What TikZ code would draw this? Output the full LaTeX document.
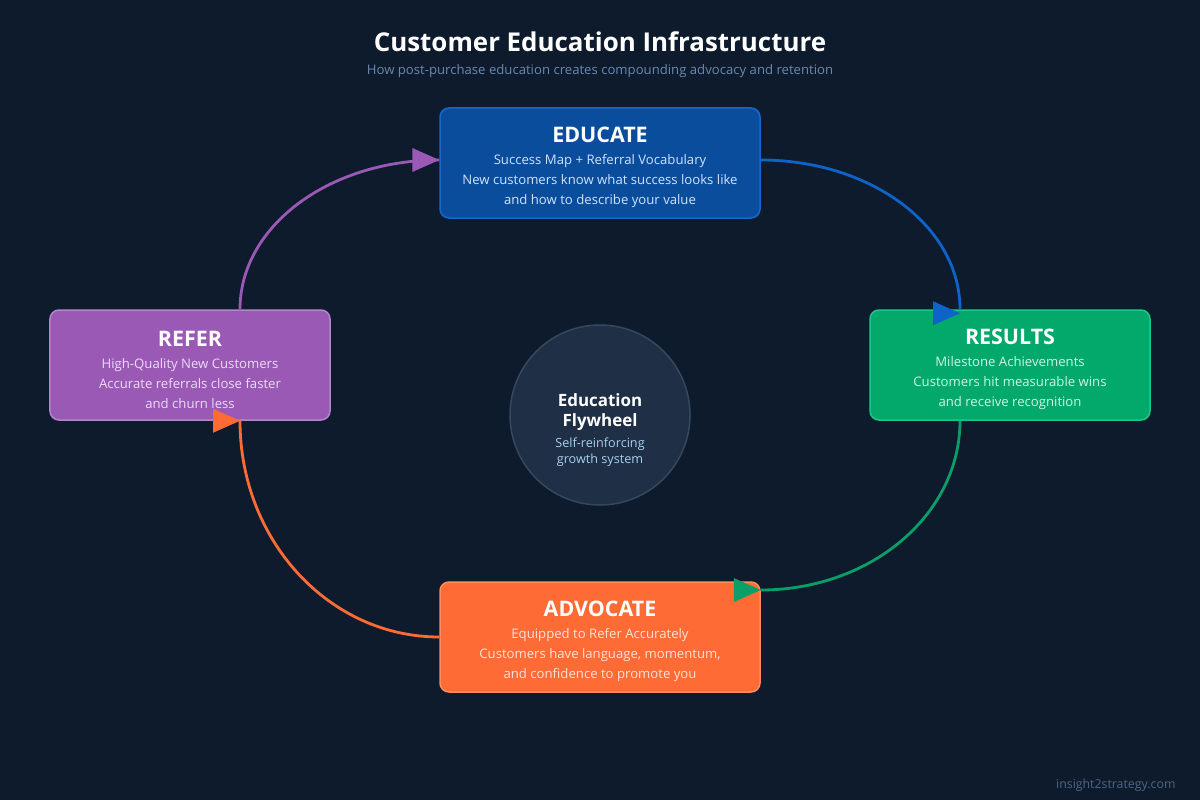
\documentclass[tikz,border=0pt]{standalone}
\usepackage{fontspec}
\setmainfont{Open Sans}
\usepackage{tikz}
\usetikzlibrary{positioning}

\definecolor{bgdark}{HTML}{0E1B2D}
\definecolor{subgray}{HTML}{6A88B0}
\definecolor{markgray}{HTML}{4E6585}
\definecolor{edufill}{HTML}{0A4D9C}
\definecolor{eduline}{HTML}{1A66CC}
\definecolor{edutext}{HTML}{CFE3FF}
\definecolor{resfill}{HTML}{03A86B}
\definecolor{resline}{HTML}{18C98A}
\definecolor{restext}{HTML}{CCF7E6}
\definecolor{reffill}{HTML}{9B59B6}
\definecolor{refline}{HTML}{B585C9}
\definecolor{reftext}{HTML}{EADCF5}
\definecolor{advfill}{HTML}{FF6B35}
\definecolor{advline}{HTML}{FF8C5E}
\definecolor{advtext}{HTML}{FFE2D6}
\definecolor{hubfill}{HTML}{1E2F46}
\definecolor{hubline}{HTML}{34495E}
\definecolor{hubtext}{HTML}{A8CFEE}
\definecolor{flowpurple}{HTML}{9B59B6}
\definecolor{flowblue}{HTML}{0E63C8}
\definecolor{flowgreen}{HTML}{0A9E68}
\definecolor{floworange}{HTML}{FF6B35}

\newcommand{\boxtext}[4]{{\fontsize{21.5}{24}\selectfont\bfseries\rule{0pt}{24.5pt}#1}\\[2pt]#2\\#3\\#4}

\begin{document}
\begin{tikzpicture}[x=1bp, y=-1bp, align=center,
  stage/.style={draw, line width=1.5bp, rounded corners=9bp, minimum width=320bp, minimum height=110bp,
    inner sep=0pt, text=white, font=\fontsize{13.2}{20}\selectfont},
  hub/.style={circle, draw=hubline, fill=hubfill, line width=1.5bp, minimum size=180bp, inner sep=0pt},
  flow/.style={line width=2.8bp},
  tri/.pic={\fill (0,0) -- (-27,-12) -- (-27,12) -- cycle;}]
\useasboundingbox (0,0) rectangle (1200,800);
\fill[bgdark] (0,0) rectangle (1200,800);

\node[text=white, font=\fontsize{26}{30}\selectfont\bfseries] at (600,42) (title) {Customer Education Infrastructure};
\node[text=subgray, font=\fontsize{13.2}{15}\selectfont] at (600,71) (subtitle) {How post-purchase education creates compounding advocacy and retention};

\node[stage, fill=edufill, draw=eduline] at (600,163) (educate)
  {\boxtext{EDUCATE}{\color{edutext}Success Map + Referral Vocabulary}{\color{edutext}New customers know what success looks like}{\color{edutext}and how to describe your value}};
\node[stage, fill=resfill, draw=resline, minimum width=280bp] at (1010,365) (results)
  {\boxtext{RESULTS}{\color{restext}Milestone Achievements}{\color{restext}Customers hit measurable wins}{\color{restext}and receive recognition}};
\node[stage, fill=advfill, draw=advline] at (600,637) (advocate)
  {\boxtext{ADVOCATE}{\color{advtext}Equipped to Refer Accurately}{\color{advtext}Customers have language, momentum,}{\color{advtext}and confidence to promote you}};
\node[stage, fill=reffill, draw=refline, minimum width=280bp] at (190,365) (refer)
  {\boxtext{REFER}{\color{reftext}High-Quality New Customers}{\color{reftext}Accurate referrals close faster}{\color{reftext}and churn less}};

\node[hub] at (600,415) (flywheel) {};
\node[text=white, font=\fontsize{17}{20}\selectfont\bfseries] at (600,412) (hubtitle) {Education\\Flywheel};
\node[text=hubtext, font=\fontsize{12.7}{16}\selectfont] at (600,452) (hubsub) {Self-reinforcing\\growth system};

% loop of connectors
\draw[flow, flowpurple] ([xshift=50bp]refer.north) .. controls +(0,-83) and +(-110,0) .. ([yshift=3bp]educate.west);
\draw[flow, flowblue] ([yshift=3bp]educate.east) .. controls +(110,0) and +(0,-83) .. ([xshift=-50bp]results.north);
\draw[flow, flowgreen] ([xshift=-50bp]results.south) .. controls +(0,94) and +(110,0) .. ([yshift=47bp]advocate.east);
\draw[flow, floworange] (advocate.west) .. controls +(-110,0) and +(0,120) .. ([xshift=50bp]refer.south);

\pic[fill=flowpurple] at ([yshift=3bp]educate.west) {tri};
\pic[fill=flowblue] at ([yshift=-4bp,xshift=-50bp]results.north) {tri};
\pic[fill=flowgreen] at ([yshift=47bp]advocate.east) {tri};
\pic[fill=floworange] at ([xshift=50bp]refer.south) {tri};

\node[text=markgray, font=\fontsize{12.4}{14}\selectfont, anchor=east] at (1179,785) (mark) {insight2strategy.com};
\end{tikzpicture}
\end{document}
